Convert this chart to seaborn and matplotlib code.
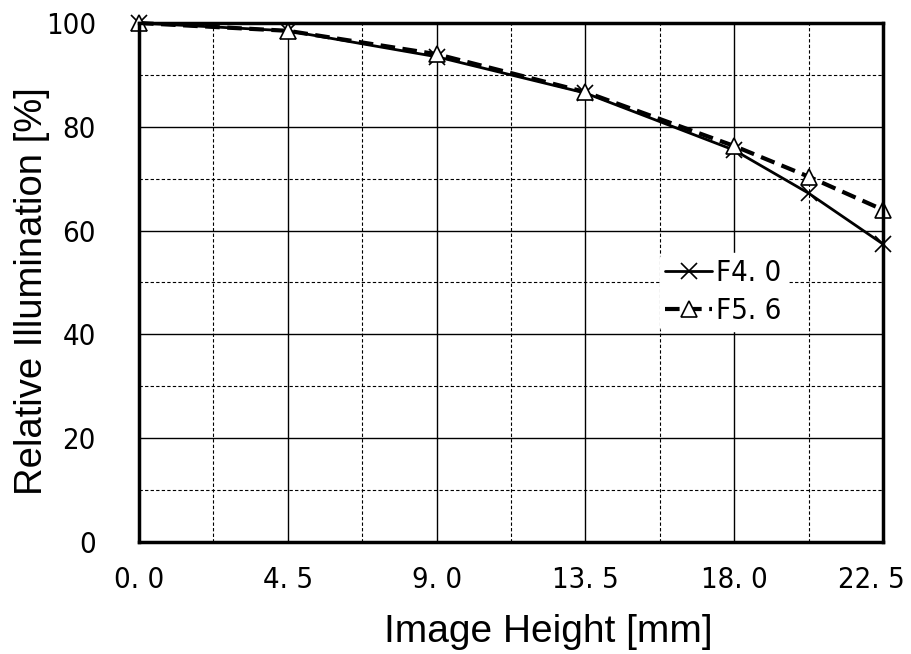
import numpy as np
import pandas as pd
import matplotlib
matplotlib.use("Agg")
import matplotlib.pyplot as plt
import matplotlib.transforms as mtransforms
import seaborn as sns

image_height = [0.0, 4.5, 9.0, 13.5, 18.0, 20.25, 22.5]
f40 = [100.0, 98.5, 93.5, 86.5, 75.5, 67.2, 57.4]
f56 = [100.0, 98.5, 94.0, 86.7, 76.3, 70.4, 64.0]
x_ticks = [0.0, 4.5, 9.0, 13.5, 18.0, 22.5]
x_tick_labels = ["0. 0", "4. 5", "9. 0", "13. 5", "18. 0", "22. 5"]
y_ticks = [0, 20, 40, 60, 80, 100]
series_names = ["F4. 0", "F5. 6"]

sns.set_style("white")
plt.rcParams["font.family"] = ["Liberation Sans", "DejaVu Sans"]
plt.rcParams["text.color"] = "black"
plt.rcParams["axes.labelcolor"] = "black"
plt.rcParams["xtick.color"] = "black"
plt.rcParams["ytick.color"] = "black"

df = pd.DataFrame({
    "x": image_height * 2,
    "y": f40 + f56,
    "series": [series_names[0]] * len(f40) + [series_names[1]] * len(f56),
})

fig = plt.figure(figsize=(9.11, 6.54), dpi=100)
ax = fig.add_axes([0.1526, 0.1713, 0.8167, 0.7935])

sns.lineplot(data=df[df["series"] == series_names[0]], x="x", y="y", ax=ax,
             color="black", linewidth=2, marker="x", markersize=11,
             markeredgecolor="black", markeredgewidth=1.2,
             label=series_names[0], clip_on=False)
sns.lineplot(data=df[df["series"] == series_names[1]], x="x", y="y", ax=ax,
             color="black", linewidth=3, linestyle=(0, (3.5, 1.8)), marker="^",
             markersize=11, markerfacecolor="white", markeredgecolor="black",
             markeredgewidth=1.2, label=series_names[1], clip_on=False)

ax.set_xlim(0, 22.5)
ax.set_ylim(0, 100)
ax.set_xticks(x_ticks)
ax.set_xticklabels(x_tick_labels)
ax.set_yticks(y_ticks)
ax.set_xticks(np.arange(2.25, 22.5, 4.5), minor=True)
ax.set_yticks(np.arange(10, 100, 20), minor=True)
ax.grid(True, which="major", color="black", linewidth=1, linestyle="-")
ax.grid(True, which="minor", color="black", linewidth=0.8, linestyle=(0, (3, 2)))
ax.tick_params(which="both", length=0)
ax.tick_params(axis="x", pad=17)
ax.tick_params(axis="y", pad=31)
for lab in ax.get_xticklabels() + ax.get_yticklabels():
    lab.set_fontfamily("DejaVu Sans")
    lab.set_fontstretch("condensed")
    lab.set_fontsize(21)

last = ax.get_xticklabels()[-1]
last.set_transform(last.get_transform()
                   + mtransforms.ScaledTranslation(-0.12, 0, fig.dpi_scale_trans))

for s in ax.spines.values():
    s.set_visible(True)
    s.set_color("black")
    s.set_linewidth(2.5)

ax.set_xlabel("Image Height [mm]", fontsize=28)
ax.set_ylabel("Relative Illumination [%]", fontsize=27.5)
ax.xaxis.set_label_coords(0.55, -0.138)
ax.yaxis.set_label_coords(-0.119, 0.484)

leg = ax.legend(loc="upper left", bbox_to_anchor=(0.68, 0.585), frameon=True,
                framealpha=1, edgecolor="white", fontsize=21,
                handlelength=1.6, handletextpad=0.15, borderpad=0.2,
                labelspacing=0.35)
for t in leg.get_texts():
    t.set_fontfamily("DejaVu Sans")
    t.set_fontstretch("condensed")
ax.set_axisbelow(True)

fig.savefig("out.png", dpi=100)
